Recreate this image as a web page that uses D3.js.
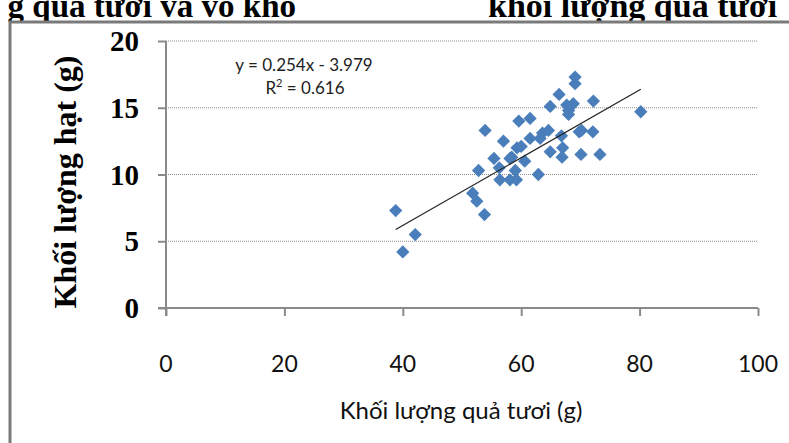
<!DOCTYPE html>
<html>
<head>
<meta charset="utf-8">
<script src="https://cdn.jsdelivr.net/npm/d3@7"></script>
<style>
  body { margin: 0; background: #fff; }
  svg { display: block; }
</style>
</head>
<body>
<div id="chart"></div>
<script>
// scatter data: fresh fruit mass (x) vs seed mass (y)
var fruitMass = [38.8, 40.0, 42.1, 51.8, 52.5, 53.8, 52.8, 53.9, 55.4, 56.3,
  56.4, 57.0, 58.1, 58.1, 59.2, 59.0, 59.3, 59.6, 60.6, 61.5,
  61.5, 62.9, 63.2, 63.6, 64.6, 64.9, 64.9, 66.4, 66.8, 67.0,
  66.9, 67.7, 68.0, 68.0, 68.8, 69.1, 69.1, 69.8, 70.2, 70.1,
  72.1, 72.2, 73.3, 80.2, 58.4, 60.0];
var seedMass = [7.3, 4.2, 5.5, 8.6, 8.0, 7.0, 10.3, 13.3, 11.2, 10.5,
  9.6, 12.5, 9.6, 11.2, 9.6, 10.3, 12.0, 14.0, 11.0, 14.2,
  12.7, 10.0, 12.7, 13.1, 13.3, 11.7, 15.1, 16.0, 12.9, 12.0,
  11.3, 15.2, 14.5, 14.8, 15.3, 16.8, 17.3, 13.2, 13.3, 11.5,
  13.2, 15.5, 11.5, 14.7, 11.3, 12.1];

var xTicks = [0, 20, 40, 60, 80, 100];
var yTicks = [0, 5, 10, 15, 20];
var slope = 0.254, intercept = -3.979;
var eqText = "y = 0.254x - 3.979";
var r2Text = "= 0.616";

var svgWidth = 789;
var svgHeight = 443;

var margin = { top: 41, left: 166, right: 31, bottom: 135 };
var width = svgWidth - margin.left - margin.right;
var height = svgHeight - margin.top - margin.bottom;

var svg = d3.select("#chart")
  .append("svg")
  .attr("width", svgWidth)
  .attr("height", svgHeight);

// bits of the document caption cut off at the top
svg.append("text")
  .attr("x", 296).attr("y", 17)
  .attr("text-anchor", "end")
  .style("font-family", "'Liberation Serif', serif")
  .style("font-weight", "bold")
  .style("font-size", "33px")
  .text("g quả tươi và vỏ khô");
svg.append("text")
  .attr("x", 488).attr("y", 17)
  .style("font-family", "'Liberation Serif', serif")
  .style("font-weight", "bold")
  .style("font-size", "34px")
  .text("khối lượng quả tươi");

// chart frame
svg.append("rect")
  .attr("x", 10).attr("y", 22)
  .attr("width", 820).attr("height", 500)
  .attr("fill", "#fff")
  .attr("stroke", "#7a7a7a")
  .attr("stroke-width", 3);

var chartGroup = svg.append("g")
  .attr("transform", `translate(${margin.left}, ${margin.top})`);

var xScale = d3.scaleLinear().domain([0, 100]).range([0, width]);
var yScale = d3.scaleLinear().domain([0, 20]).range([height, 0]);

// dotted gridlines
chartGroup.selectAll(".grid")
  .data(yTicks.filter(d => d > 0))
  .enter()
  .append("line")
  .attr("x1", 0).attr("x2", width)
  .attr("y1", d => yScale(d)).attr("y2", d => yScale(d))
  .attr("stroke", "#8c8c8c")
  .attr("stroke-width", 1)
  .attr("stroke-dasharray", "1,1");

// axes
var bottomAxis = d3.axisBottom(xScale).tickValues(xTicks).tickSize(8).tickFormat("");
var leftAxis = d3.axisLeft(yScale).tickValues(yTicks).tickSize(8).tickFormat("");

var xAxis = chartGroup.append("g")
  .attr("transform", `translate(0, ${height})`)
  .call(bottomAxis);
var yAxis = chartGroup.append("g").call(leftAxis);

[xAxis, yAxis].forEach(function(ax) {
  ax.select(".domain").attr("stroke", "#8a8a8a").attr("stroke-width", 2);
  ax.selectAll(".tick line").attr("stroke", "#8a8a8a").attr("stroke-width", 2);
});
xAxis.select(".domain").attr("d", `M-8,0H${width}`);
yAxis.select(".domain").attr("d", `M0,${height + 8}V0`);

// tick labels
chartGroup.selectAll(".xlab")
  .data(xTicks)
  .enter()
  .append("text")
  .attr("x", d => xScale(d))
  .attr("y", height + 64)
  .attr("text-anchor", "middle")
  .style("font-family", "Lato, sans-serif")
  .style("font-size", "23px")
  .style("fill", "#111")
  .text(d => d);

chartGroup.selectAll(".ylab")
  .data(yTicks)
  .enter()
  .append("text")
  .attr("x", -27)
  .attr("y", d => yScale(d) + 10)
  .attr("text-anchor", "end")
  .style("font-family", "'Liberation Serif', serif")
  .style("font-weight", "bold")
  .style("font-size", "29px")
  .text(d => d);

// axis titles
svg.append("text")
  .attr("transform", "translate(76, 182) rotate(-90)")
  .attr("text-anchor", "middle")
  .style("font-family", "'Liberation Serif', serif")
  .style("font-weight", "bold")
  .style("font-size", "32px")
  .text("Khối lượng hạt (g)");

svg.append("text")
  .attr("x", 461).attr("y", 419)
  .attr("text-anchor", "middle")
  .style("font-family", "Lato, sans-serif")
  .style("font-size", "24px")
  .style("fill", "#111")
  .text("Khối lượng quả tươi (g)");

// points
var pts = fruitMass.map((x, i) => ({ x: x, y: seedMass[i] }));
chartGroup.selectAll(".pt")
  .data(pts)
  .enter()
  .append("path")
  .attr("d", d3.symbol().type(d3.symbolSquare).size(88))
  .attr("transform", d => `translate(${xScale(d.x)}, ${yScale(d.y)}) rotate(45)`)
  .attr("fill", "#4a7ebb");

// linear trendline
var xMin = d3.min(fruitMass), xMax = d3.max(fruitMass);
chartGroup.append("line")
  .attr("x1", xScale(xMin)).attr("y1", yScale(slope * xMin + intercept))
  .attr("x2", xScale(xMax)).attr("y2", yScale(slope * xMax + intercept))
  .attr("stroke", "#222")
  .attr("stroke-width", 1.2);

// equation label
var eq = svg.append("text")
  .attr("text-anchor", "middle")
  .style("font-family", "Lato, sans-serif")
  .style("font-size", "17px")
  .style("fill", "#222");
eq.append("tspan").attr("x", 304).attr("y", 71).text(eqText);
var r2 = eq.append("tspan").attr("x", 305).attr("y", 94);
r2.append("tspan").text("R");
r2.append("tspan").attr("dy", -7).style("font-size", "11px").text("2");
r2.append("tspan").attr("dy", 7).text(" " + r2Text);
</script>
</body>
</html>
